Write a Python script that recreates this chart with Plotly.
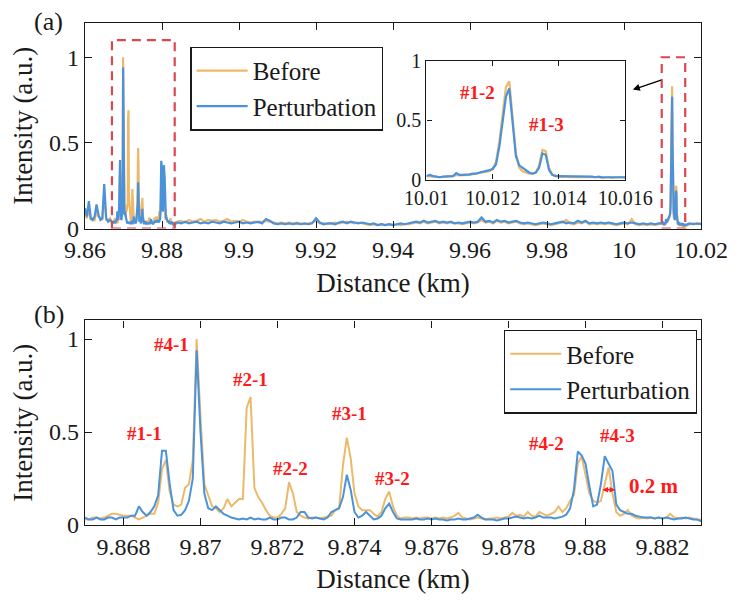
import numpy as np
import plotly.graph_objects as go

# ---------------- distance grids (km) ----------------
d_lead = np.round(9.8600 + 0.0005 * np.arange(14), 4)     # 9.8600 ... 9.8665
d_zoom = np.round(9.8670 + 0.0001 * np.arange(161), 4)    # 9.8670 ... 9.8830
d_mid = np.round(9.8840 + 0.001 * np.arange(126), 3)      # 9.884 ... 10.009
d_fbg = np.round(10.0100 + 0.0001 * np.arange(61), 4)     # 10.0100 ... 10.0160
d_tail = np.round(10.0170 + 0.001 * np.arange(4), 3)      # 10.017 ... 10.020

# ---------------- intensity traces (a.u.) ----------------
before_lead = [0.09, 0.06, 0.12, 0.05, 0.06, 0.05, 0.10, 0.07, 0.06, 0.05, 0.20, 0.05, 0.05, 0.06]
pert_lead = [0.12, 0.07, 0.16, 0.06, 0.05, 0.07, 0.14, 0.08, 0.05, 0.06, 0.26, 0.06, 0.04, 0.05]

before_zoom = [
    0.03, 0.03, 0.04, 0.04, 0.035, 0.04, 0.05, 0.06, 0.06, 0.055,
    0.05, 0.05, 0.05, 0.04, 0.03, 0.04, 0.05, 0.06, 0.06, 0.12,
    0.30, 0.35, 0.18, 0.11, 0.10, 0.11, 0.20, 0.22, 0.35, 1.00,
    0.58, 0.22, 0.16, 0.10, 0.09, 0.07, 0.09, 0.14, 0.10, 0.12,
    0.14, 0.14, 0.63, 0.69, 0.20, 0.15, 0.12, 0.08, 0.05, 0.04,
    0.04, 0.06, 0.09, 0.23, 0.17, 0.07, 0.05, 0.04, 0.035, 0.04,
    0.04, 0.035, 0.04, 0.045, 0.05, 0.08, 0.09, 0.32, 0.47, 0.36,
    0.17, 0.10, 0.08, 0.08, 0.08, 0.06, 0.045, 0.07, 0.14, 0.18,
    0.10, 0.05, 0.035, 0.04, 0.04, 0.035, 0.04, 0.035, 0.04, 0.04,
    0.035, 0.04, 0.035, 0.04, 0.035, 0.04, 0.05, 0.065, 0.04, 0.035,
    0.03, 0.035, 0.04, 0.035, 0.03, 0.035, 0.035, 0.04, 0.035, 0.04,
    0.045, 0.065, 0.05, 0.055, 0.045, 0.07, 0.05, 0.045, 0.07, 0.06,
    0.05, 0.06, 0.07, 0.10, 0.07, 0.09, 0.13, 0.16, 0.33, 0.37,
    0.26, 0.17, 0.13, 0.12, 0.13, 0.22, 0.31, 0.17, 0.07, 0.05,
    0.06, 0.08, 0.05, 0.04, 0.035, 0.04, 0.035, 0.04, 0.035, 0.04,
    0.035, 0.04, 0.06, 0.04, 0.035, 0.04, 0.035, 0.04, 0.035, 0.03, 0.03,
]
pert_zoom = [
    0.04, 0.03, 0.03, 0.04, 0.03, 0.03, 0.04, 0.04, 0.03, 0.04,
    0.04, 0.04, 0.05, 0.05, 0.10, 0.07, 0.05, 0.07, 0.10, 0.16,
    0.40, 0.40, 0.22, 0.08, 0.05, 0.055, 0.08, 0.13, 0.25, 0.94,
    0.50, 0.17, 0.09, 0.08, 0.10, 0.08, 0.06, 0.05, 0.04, 0.035,
    0.03, 0.035, 0.03, 0.04, 0.03, 0.035, 0.03, 0.03, 0.04, 0.03,
    0.03, 0.04, 0.04, 0.03, 0.03, 0.04, 0.07, 0.07, 0.04, 0.035,
    0.04, 0.035, 0.03, 0.04, 0.07, 0.08, 0.09, 0.15, 0.27, 0.19,
    0.07, 0.04, 0.05, 0.07, 0.05, 0.03, 0.035, 0.05, 0.09, 0.115,
    0.07, 0.035, 0.03, 0.03, 0.03, 0.03, 0.035, 0.03, 0.03, 0.035,
    0.03, 0.035, 0.03, 0.03, 0.025, 0.03, 0.03, 0.035, 0.03, 0.03,
    0.035, 0.04, 0.055, 0.04, 0.03, 0.03, 0.03, 0.025, 0.03, 0.035,
    0.035, 0.04, 0.045, 0.04, 0.035, 0.04, 0.035, 0.04, 0.05, 0.04,
    0.04, 0.04, 0.035, 0.04, 0.045, 0.055, 0.09, 0.19, 0.395, 0.375,
    0.33, 0.21, 0.10, 0.11, 0.22, 0.37, 0.33, 0.29, 0.11, 0.08,
    0.07, 0.06, 0.06, 0.05, 0.045, 0.04, 0.04, 0.04, 0.035, 0.04,
    0.035, 0.04, 0.035, 0.03, 0.035, 0.035, 0.04, 0.035, 0.03, 0.03, 0.02,
]

before_mid = [
    0.04, 0.045, 0.035, 0.05, 0.04, 0.045, 0.055, 0.04, 0.05, 0.045,
    0.05, 0.04, 0.045, 0.055, 0.04, 0.045, 0.04, 0.05, 0.04, 0.035,
    0.04, 0.035, 0.04, 0.045, 0.04, 0.035, 0.03, 0.035, 0.03, 0.035,
    0.03, 0.035, 0.03, 0.025, 0.03, 0.035, 0.045, 0.03, 0.03, 0.025,
    0.03, 0.035, 0.03, 0.035, 0.04, 0.035, 0.03, 0.035, 0.03, 0.025,
    0.02, 0.025, 0.02, 0.025, 0.02, 0.025, 0.02, 0.025, 0.02, 0.025,
    0.025, 0.03, 0.035, 0.03, 0.04, 0.03, 0.035, 0.04, 0.03, 0.035,
    0.03, 0.035, 0.03, 0.03, 0.025, 0.03, 0.035, 0.03, 0.035, 0.05,
    0.035, 0.04, 0.03, 0.045, 0.035, 0.04, 0.03, 0.035, 0.04, 0.03,
    0.025, 0.03, 0.025, 0.02, 0.025, 0.03, 0.025, 0.02, 0.025, 0.03,
    0.035, 0.05, 0.03, 0.025, 0.035, 0.03, 0.04, 0.025, 0.03, 0.025,
    0.03, 0.025, 0.03, 0.025, 0.02, 0.025, 0.03, 0.025, 0.055, 0.025,
    0.02, 0.025, 0.02, 0.025, 0.02, 0.025,
]
pert_mid = [
    0.035, 0.03, 0.04, 0.03, 0.035, 0.04, 0.03, 0.035, 0.03, 0.04,
    0.035, 0.03, 0.04, 0.035, 0.03, 0.035, 0.04, 0.03, 0.035, 0.03,
    0.035, 0.04, 0.03, 0.055, 0.045, 0.03, 0.025, 0.03, 0.025, 0.03,
    0.025, 0.03, 0.025, 0.03, 0.025, 0.03, 0.06, 0.035, 0.025, 0.03,
    0.03, 0.025, 0.035, 0.04, 0.03, 0.04, 0.035, 0.03, 0.035, 0.03,
    0.025, 0.03, 0.02, 0.025, 0.02, 0.025, 0.02, 0.025, 0.03, 0.025,
    0.03, 0.035, 0.04, 0.035, 0.045, 0.035, 0.04, 0.045, 0.035, 0.04,
    0.035, 0.04, 0.03, 0.035, 0.03, 0.035, 0.04, 0.035, 0.04, 0.065,
    0.04, 0.045, 0.035, 0.05, 0.04, 0.045, 0.035, 0.04, 0.045, 0.035,
    0.03, 0.035, 0.03, 0.025, 0.03, 0.035, 0.03, 0.025, 0.03, 0.035,
    0.04, 0.03, 0.035, 0.03, 0.045, 0.035, 0.045, 0.03, 0.035, 0.03,
    0.035, 0.03, 0.035, 0.03, 0.025, 0.03, 0.035, 0.03, 0.035, 0.03,
    0.025, 0.03, 0.025, 0.03, 0.025, 0.03,
]

before_fbg = [
    0.03, 0.03, 0.025, 0.025, 0.02, 0.025, 0.025, 0.03, 0.03, 0.04,
    0.035, 0.035, 0.04, 0.04, 0.045, 0.05, 0.055, 0.06, 0.065, 0.07,
    0.09, 0.15, 0.32, 0.56, 0.78, 0.83, 0.55, 0.22, 0.10, 0.07,
    0.06, 0.05, 0.05, 0.06, 0.12, 0.25, 0.24, 0.10, 0.04, 0.03,
    0.025, 0.02, 0.025, 0.02, 0.02, 0.025, 0.02, 0.02, 0.025, 0.02,
    0.02, 0.02, 0.02, 0.015, 0.02, 0.02, 0.015, 0.02, 0.02, 0.02, 0.015,
]
pert_fbg = [
    0.03, 0.04, 0.03, 0.025, 0.02, 0.025, 0.025, 0.03, 0.03, 0.055,
    0.04, 0.04, 0.04, 0.045, 0.05, 0.05, 0.06, 0.065, 0.07, 0.08,
    0.09, 0.13, 0.28, 0.50, 0.70, 0.77, 0.50, 0.20, 0.12, 0.10,
    0.08, 0.06, 0.05, 0.06, 0.10, 0.22, 0.21, 0.08, 0.04, 0.03,
    0.03, 0.03, 0.025, 0.03, 0.025, 0.03, 0.025, 0.025, 0.03, 0.025,
    0.025, 0.02, 0.025, 0.02, 0.02, 0.025, 0.02, 0.02, 0.02, 0.025, 0.02,
]

before_tail = [0.025, 0.03, 0.025, 0.03]
pert_tail = [0.03, 0.025, 0.03, 0.025]

# full-span trace for panel (a)
d_all = np.concatenate([d_lead, d_zoom, d_mid, d_fbg, d_tail])
before_all = before_lead + before_zoom + before_mid + before_fbg + before_tail
pert_all = pert_lead + pert_zoom + pert_mid + pert_fbg + pert_tail

# ---------------- ticks ----------------
xa_ticks = [9.86, 9.88, 9.90, 9.92, 9.94, 9.96, 9.98, 10.00, 10.02]
xa_text = ["9.86", "9.88", "9.9", "9.92", "9.94", "9.96", "9.98", "10", "10.02"]
xb_ticks = [9.868, 9.870, 9.872, 9.874, 9.876, 9.878, 9.880, 9.882]
xb_text = ["9.868", "9.87", "9.872", "9.874", "9.876", "9.878", "9.88", "9.882"]
xi_ticks = [10.010, 10.012, 10.014, 10.016]
xi_text = ["10.01", "10.012", "10.014", "10.016"]
y_ticks = [0, 0.5, 1]
y_text = ["0", "0.5", "1"]

# ---------------- peak labels (panel b and inset) ----------------
peak_names_b = ["#1-1", "#4-1", "#2-1", "#2-2", "#3-1", "#3-2", "#4-2", "#4-3"]
peak_x_b = [9.86854, 9.86925, 9.8713, 9.87235, 9.87386, 9.87498, 9.87898, 9.88084]
peak_y_b = [0.49, 0.97, 0.78, 0.305, 0.60, 0.25, 0.44, 0.48]
peak_names_i = ["#1-2", "#1-3"]
peak_x_i = [10.01154, 10.01363]
peak_y_i = [0.733, 0.465]

FONT = "Liberation Serif, Times New Roman, serif"
ORANGE = "#ecb96b"
BLUE = "#4b92db"
RED = "#ff1a1a"
BOX_RED = "#d9474f"
INK = "#1a1a1a"

fig = go.Figure()

# panel (a)
fig.add_trace(go.Scatter(x=d_all, y=before_all, mode="lines", name="Before",
                         line=dict(color=ORANGE, width=2.2), xaxis="x", yaxis="y",
                         legend="legend"))
fig.add_trace(go.Scatter(x=d_all, y=pert_all, mode="lines", name="Perturbation",
                         line=dict(color=BLUE, width=2.2), xaxis="x", yaxis="y",
                         legend="legend"))
# inset of panel (a)
fig.add_trace(go.Scatter(x=d_fbg, y=before_fbg, mode="lines", showlegend=False,
                         line=dict(color=ORANGE, width=2.2), xaxis="x3", yaxis="y3"))
fig.add_trace(go.Scatter(x=d_fbg, y=pert_fbg, mode="lines", showlegend=False,
                         line=dict(color=BLUE, width=2.2), xaxis="x3", yaxis="y3"))
# panel (b)
fig.add_trace(go.Scatter(x=d_zoom, y=before_zoom, mode="lines", name="Before",
                         line=dict(color=ORANGE, width=2), xaxis="x2", yaxis="y2",
                         legend="legend2"))
fig.add_trace(go.Scatter(x=d_zoom, y=pert_zoom, mode="lines", name="Perturbation",
                         line=dict(color=BLUE, width=2), xaxis="x2", yaxis="y2",
                         legend="legend2"))

axis_common = dict(showline=True, linecolor=INK, linewidth=1.3, mirror="ticks",
                   ticks="inside", ticklen=7, tickwidth=1.2, tickcolor=INK,
                   showgrid=False, zeroline=False,
                   tickfont=dict(family=FONT, size=24, color=INK))
inset_axis = {**axis_common, "ticklen": 5,
              "tickfont": dict(family=FONT, size=20, color=INK)}
title_font = dict(family=FONT, size=27, color=INK)
legend_font = dict(family=FONT, size=25, color=INK)

fig.update_layout(
    width=740, height=601,
    margin=dict(l=85, r=29, t=18, b=70),
    paper_bgcolor="white", plot_bgcolor="white",
    font=dict(family=FONT, color=INK),
    xaxis=dict(domain=[0, 1], anchor="y", range=[9.86, 10.02],
               tickvals=xa_ticks, ticktext=xa_text,
               title=dict(text="Distance (km)", font=title_font, standoff=10),
               **axis_common),
    yaxis=dict(domain=[0.5906, 1], anchor="x", range=[0, 1.2],
               tickvals=y_ticks, ticktext=y_text,
               title=dict(text="Intensity (a.u.)", font=title_font, standoff=8),
               **axis_common),
    xaxis2=dict(domain=[0, 1], anchor="y2", range=[9.867, 9.883],
                tickvals=xb_ticks, ticktext=xb_text,
                title=dict(text="Distance (km)", font=title_font, standoff=10),
                **axis_common),
    yaxis2=dict(domain=[0, 0.4074], anchor="x2", range=[0, 1.1],
                tickvals=y_ticks, ticktext=y_text,
                title=dict(text="Intensity (a.u.)", font=title_font, standoff=8),
                **axis_common),
    xaxis3=dict(domain=[0.5543, 0.877], anchor="y3", range=[10.01, 10.016],
                tickvals=xi_ticks, ticktext=xi_text, **inset_axis),
    yaxis3=dict(domain=[0.688, 0.924], anchor="x3", range=[0, 1],
                tickvals=y_ticks, ticktext=y_text, **inset_axis),
    legend=dict(x=0.171, y=0.953, xanchor="left", yanchor="top",
                bgcolor="white", bordercolor=INK, borderwidth=1.3,
                font=legend_font, tracegroupgap=0, itemwidth=51),
    legend2=dict(x=0.68, y=0.389, xanchor="left", yanchor="top",
                 bgcolor="white", bordercolor=INK, borderwidth=1.3,
                 font=legend_font, tracegroupgap=0, itemwidth=51),
    showlegend=True,
)

# dashed boxes marking the zoomed regions in panel (a)
fig.add_shape(type="rect", xref="x", yref="y", x0=9.867, x1=9.8833, y0=0, y1=1.1,
              line=dict(color=BOX_RED, width=2.2, dash="9px,6px"))
fig.add_shape(type="rect", xref="x", yref="y", x0=10.0098, x1=10.0159, y0=0, y1=1.0,
              line=dict(color=BOX_RED, width=2.2, dash="9px,6px"))

# pointer from the FBG box to the inset
fig.add_annotation(xref="x", yref="y", axref="x", ayref="y",
                   x=10.0023, y=0.811, ax=10.0100, ay=0.869, text="",
                   showarrow=True, arrowhead=2, arrowsize=1, arrowwidth=1.4,
                   arrowcolor="black")

# peak names
for name, px, py in zip(peak_names_b, peak_x_b, peak_y_b):
    fig.add_annotation(xref="x2", yref="y2", x=px, y=py, text=name, showarrow=False,
                       xanchor="center", yanchor="middle",
                       font=dict(family=FONT, size=19, color=RED, weight="bold"))
for name, px, py in zip(peak_names_i, peak_x_i, peak_y_i):
    fig.add_annotation(xref="x3", yref="y3", x=px, y=py, text=name, showarrow=False,
                       xanchor="center", yanchor="middle",
                       font=dict(family=FONT, size=19, color=RED, weight="bold"))

# peak shift marker between #4-3 traces
fig.add_annotation(xref="x2", yref="y2", axref="x2", ayref="y2",
                   x=9.88077, y=0.19, ax=9.88040, ay=0.19, text="",
                   showarrow=True, arrowside="end+start", arrowhead=2,
                   arrowsize=0.7, arrowwidth=1.6, arrowcolor=RED)
fig.add_annotation(xref="x2", yref="y2", x=9.88179, y=0.21, text="0.2 m",
                   showarrow=False, xanchor="center", yanchor="middle",
                   font=dict(family=FONT, size=21, color=RED, weight="bold"))

# panel tags
fig.add_annotation(xref="paper", yref="paper", x=-0.059, y=1.003, text="(a)",
                   showarrow=False, xanchor="center", yanchor="middle",
                   font=dict(family=FONT, size=26, color=INK))
fig.add_annotation(xref="paper", yref="paper", x=-0.059, y=0.419, text="(b)",
                   showarrow=False, xanchor="center", yanchor="middle",
                   font=dict(family=FONT, size=26, color=INK))

fig.write_html("out.html")
